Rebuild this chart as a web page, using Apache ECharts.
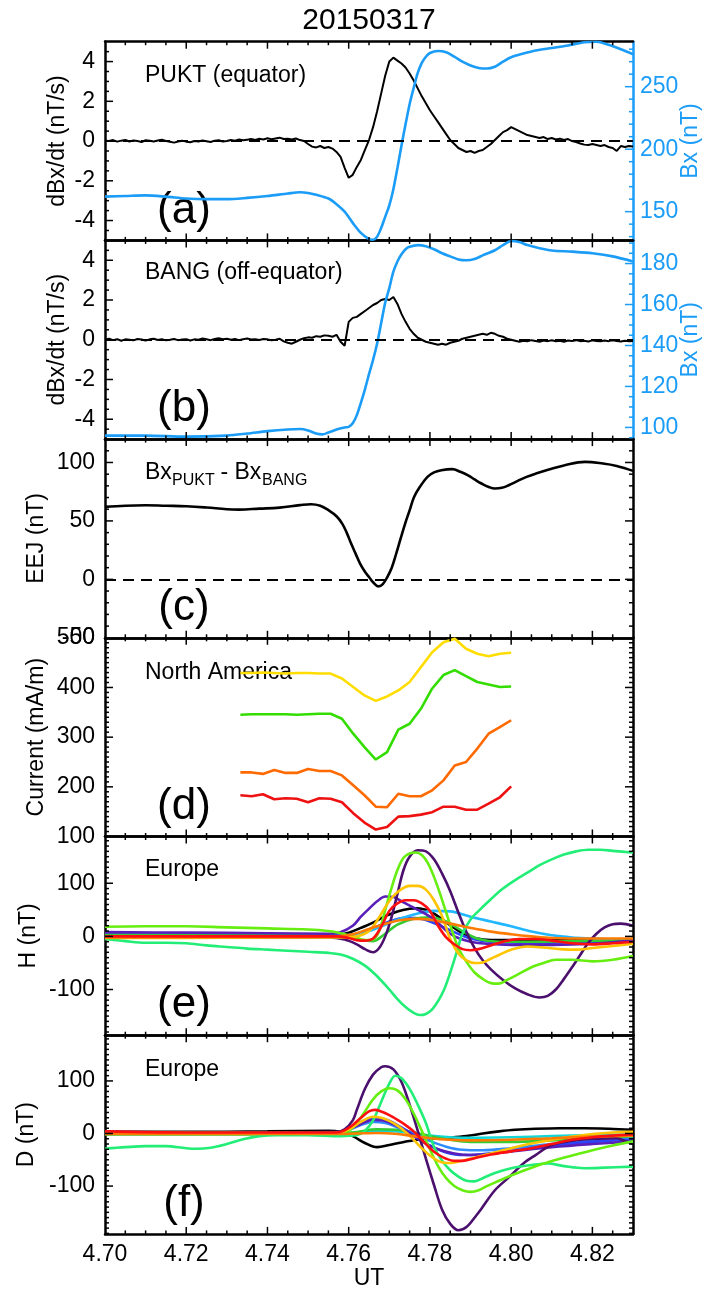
<!DOCTYPE html>
<html>
<head>
<meta charset="utf-8">
<title>20150317</title>
<script src="https://cdn.jsdelivr.net/npm/echarts@6/dist/echarts.min.js"></script>
<style>
  html, body { margin: 0; padding: 0; background: #fff; }
  #chart { width: 706px; height: 1293px; }
</style>
</head>
<body>
<div id="chart"></div>
<script>
// ---------------------------------------------------------------------------
// Data (UT in decimal hours)
// ---------------------------------------------------------------------------
const UT_MIN = 4.70, UT_MAX = 4.83;

// dBx/dt sampled every 0.001 h starting at 4.700 (nT/s)
const DBDT_START = 4.700, DBDT_STEP = 0.001;
const puktDbdt = [
  0.02, 0.00, 0.05, -0.03, 0.02, 0.06, -0.02, 0.03, 0.00, -0.05,
  0.04, 0.01, -0.02, 0.03, 0.07, 0.00, -0.04, -0.08, -0.02, 0.02,
  -0.03, -0.06, 0.00, -0.02, 0.03, -0.01, -0.05, 0.02, 0.04, -0.02,
  0.00, 0.05, 0.02, 0.08, 0.04, 0.07, 0.10, 0.06, 0.12, 0.08,
  0.14, 0.09, 0.13, 0.17, 0.10, 0.12, 0.08, 0.13, 0.05, 0.00,
  -0.15, -0.28, -0.32, -0.25, -0.35, -0.30, -0.38, -0.55, -0.80, -1.35,
  -1.85, -1.70, -1.30, -0.95, -0.45, 0.05, 0.70, 1.50, 2.40, 3.30,
  4.00, 4.20, 4.05, 3.90, 3.70, 3.40, 3.05, 2.65, 2.25, 1.90,
  1.55, 1.25, 0.95, 0.65, 0.35, 0.05, -0.15, -0.35, -0.45, -0.55,
  -0.50, -0.60, -0.50, -0.45, -0.30, -0.15, 0.05, 0.25, 0.45, 0.55,
  0.70, 0.60, 0.50, 0.40, 0.30, 0.25, 0.20, 0.15, 0.20, 0.10,
  0.15, 0.08, 0.12, 0.05, 0.10, 0.00, -0.05, -0.12, -0.18, -0.20,
  -0.15, -0.20, -0.25, -0.20, -0.30, -0.35, -0.50, -0.25, -0.30, -0.25,
  -0.28
];
const bangDbdt = [
  0.00, 0.05, -0.02, 0.03, -0.05, 0.02, 0.00, -0.03, 0.04, 0.01,
  -0.04, 0.02, 0.05, -0.01, 0.03, -0.03, 0.00, 0.04, -0.02, 0.01,
  0.03, -0.04, 0.02, 0.00, 0.06, 0.02, -0.02, 0.04, 0.08, 0.03,
  0.05, 0.00, 0.04, -0.02, 0.03, 0.06, 0.01, 0.03, -0.01, 0.04,
  0.02, -0.03, 0.00, 0.05, -0.08, -0.15, -0.20, -0.10, 0.00, 0.08,
  0.12, 0.10, 0.18, 0.15, 0.22, 0.20, 0.15, 0.25, -0.10, -0.30,
  0.90, 1.10, 1.15, 1.30, 1.45, 1.60, 1.75, 1.85, 2.00, 2.05,
  2.00, 2.15, 1.80, 1.30, 0.90, 0.55, 0.30, 0.10, 0.00, -0.10,
  -0.15, -0.20, -0.25, -0.20, -0.25, -0.15, -0.10, -0.05, 0.05, 0.10,
  0.15, 0.20, 0.25, 0.30, 0.25, 0.35, 0.30, 0.20, 0.15, 0.05,
  0.00, -0.05, -0.10, -0.05, -0.08, -0.02, -0.06, -0.10, -0.04, -0.07,
  -0.03, -0.08, -0.05, -0.10, -0.04, -0.06, -0.02, -0.07, -0.05, -0.09,
  -0.03, -0.06, -0.08, -0.04, -0.07, -0.03, -0.06, -0.09, -0.05, -0.07,
  -0.06
];

// Bx (nT), [UT, value]
const puktBx = [
  [4.700,162],[4.705,162.5],[4.710,163],[4.715,162],[4.720,160.5],[4.725,160],[4.730,160],
  [4.735,161],[4.740,162.5],[4.745,164.5],[4.748,165.5],[4.750,165],[4.752,163.5],[4.755,160.5],
  [4.757,156],[4.759,150],[4.761,141],[4.763,133],[4.765,128],[4.766,127.5],[4.767,130],
  [4.768,137],[4.769,146],[4.770,155],[4.771,168],[4.772,185],[4.773,203],[4.774,220],
  [4.775,236],[4.776,249],[4.777,261],[4.778,269],[4.779,274],[4.780,277],[4.782,278.5],
  [4.784,277.5],[4.786,274],[4.788,270],[4.790,267],[4.792,265],[4.794,264.5],[4.796,266],
  [4.798,270],[4.800,273.5],[4.803,276.5],[4.806,279],[4.810,281],[4.814,283],[4.818,285.5],
  [4.821,286],[4.824,283.5],[4.827,280],[4.830,276]
];
const bangBx = [
  [4.700,96],[4.710,96],[4.720,95.5],[4.730,96],[4.735,97],[4.740,98.2],[4.745,99],[4.748,99.2],
  [4.750,98.5],[4.752,97],[4.7535,96.6],[4.755,97.5],[4.757,99],[4.759,100],[4.760,100.3],
  [4.761,102],[4.762,106],[4.763,112],[4.764,118.6],[4.765,126],[4.766,133],[4.767,141],
  [4.768,151],[4.769,161],[4.770,168],[4.771,176],[4.772,181],[4.773,184.5],[4.774,187],
  [4.775,188.2],[4.777,189],[4.779,188.5],[4.781,187],[4.783,185],[4.785,183.5],[4.787,182],
  [4.789,181.6],[4.791,182.2],[4.793,184],[4.796,186.5],[4.798,189],[4.800,191],[4.802,190.5],
  [4.804,189],[4.807,187.5],[4.810,186.4],[4.815,185.8],[4.820,185],[4.825,183.5],[4.830,181]
];

// EEJ = Bx(PUKT) - Bx(BANG), nT
const eej = [
  [4.700,62],[4.705,63],[4.710,63.4],[4.715,63],[4.720,62.6],[4.725,61.5],[4.730,60],[4.733,59.7],
  [4.738,60.5],[4.743,61.4],[4.748,63.5],[4.7507,64.3],[4.753,63],[4.7551,59],[4.757,54],
  [4.7584,47.7],[4.7595,40],[4.7606,30.6],[4.7617,22],[4.7628,13.4],[4.764,6.5],[4.765,2],
  [4.766,-2.5],[4.7673,-6],[4.7684,-4],[4.7695,2],[4.7706,10],[4.7717,22],[4.7728,35],
  [4.7739,47.7],[4.775,59],[4.7761,70.5],[4.7777,80],[4.7794,87.7],[4.781,91.5],[4.7828,93.4],
  [4.7855,94.3],[4.7875,92],[4.7894,89],[4.791,85.5],[4.7927,82],[4.7945,79],[4.796,77.7],
  [4.7977,78.3],[4.7994,80.5],[4.8015,84],[4.8038,87.7],[4.8065,91],[4.8093,94],[4.813,97.5],
  [4.8182,100.5],[4.8226,99.1],[4.826,97],[4.830,92.8]
];

// North America equivalent currents (mA/m), 10 s cadence from 04:44:00 UT
const NA_START = 4 + 44 / 60, NA_CADENCE = 10 / 3600;
const naYellow = [429,429,430,429,428,429,429,428,428,418,401,384,373,382,394,411,441,471,491,498,478,468,463,468,470];
const naGreen  = [345,346,346,346,346,345,346,347,347,337,307,280,255,270,315,327,357,398,425,435,423,411,406,401,402];
const naOrange = [229,229,226,234,228,228,236,232,232,223,203,183,160,159,186,181,181,193,213,243,250,277,307,320,334];
const naRed    = [183,181,185,175,177,176,169,177,176,169,147,128,114,119,140,141,144,149,160,160,154,154,166,179,201];

// Europe H component (nT), [UT, value]
const hBlack = [[4.700,1],[4.740,1],[4.757,2],[4.760,7],[4.763,16],[4.766,26],[4.769,38],[4.772,47],[4.775,52],[4.777,53],[4.779,50],[4.781,43],[4.783,32],[4.785,21],[4.788,6],[4.791,-3],[4.795,-7],[4.810,-7],[4.830,-7]];
const hBlue = [[4.700,4],[4.750,3],[4.758,2],[4.762,5],[4.766,15],[4.770,28],[4.774,35],[4.778,33],[4.782,22],[4.786,8],[4.790,-4],[4.795,-10],[4.805,-12],[4.815,-11],[4.830,-9]];
const hCyan = [[4.700,-1],[4.757,0],[4.761,1],[4.765,10],[4.769,22],[4.773,34],[4.777,43],[4.781,48],[4.785,47],[4.790,37],[4.795,28],[4.800,19],[4.805,9],[4.810,2],[4.815,-2],[4.820,-4],[4.825,-6],[4.830,-7]];
const hGreen = [[4.700,3],[4.750,2],[4.758,0],[4.762,-6],[4.766,-9],[4.769,5],[4.772,22],[4.776,33],[4.780,36],[4.784,28],[4.788,10],[4.792,-5],[4.797,-10],[4.805,-10],[4.815,-9],[4.830,-8]];
const hViolet = [[4.700,8],[4.720,7],[4.740,6],[4.755,5],[4.758,8],[4.761,20],[4.763,37],[4.765,52],[4.767,66],[4.769,75],[4.771,74],[4.773,66],[4.775,58],[4.777,50],[4.779,42],[4.781,32],[4.783,18],[4.785,5],[4.787,-3],[4.790,-10],[4.794,-14],[4.800,-16],[4.810,-16],[4.820,-14],[4.830,-8]];
const hPurple = [[4.700,-3],[4.720,-2],[4.740,-2],[4.755,-2],[4.759,-6],[4.762,-15],[4.764,-24],[4.766,-30],[4.7675,-22],[4.769,0],[4.7705,35],[4.772,80],[4.7735,125],[4.775,150],[4.777,162],[4.779,160],[4.781,145],[4.783,118],[4.785,85],[4.787,45],[4.789,8],[4.791,-22],[4.793,-45],[4.795,-62],[4.798,-82],[4.801,-98],[4.804,-109],[4.807,-115],[4.809,-112],[4.811,-100],[4.813,-80],[4.815,-58],[4.817,-35],[4.819,-12],[4.821,5],[4.823,17],[4.825,23],[4.827,24],[4.830,20]];
const hMint = [[4.700,-5],[4.705,-9],[4.710,-12],[4.715,-12],[4.720,-13],[4.725,-17],[4.730,-20],[4.735,-23],[4.740,-25],[4.745,-27],[4.750,-29],[4.755,-31],[4.758,-34],[4.761,-42],[4.764,-55],[4.767,-75],[4.770,-100],[4.772,-118],[4.774,-133],[4.776,-144],[4.7775,-148],[4.779,-146],[4.7805,-138],[4.782,-122],[4.7835,-100],[4.785,-68],[4.7865,-32],[4.788,5],[4.790,32],[4.792,48],[4.795,70],[4.798,90],[4.801,106],[4.804,120],[4.807,134],[4.810,145],[4.813,154],[4.816,160],[4.819,163],[4.822,163],[4.825,161],[4.828,159],[4.830,158]];
const hLime = [[4.700,18],[4.710,19],[4.720,19],[4.730,17],[4.740,15],[4.750,13],[4.755,10],[4.758,6],[4.761,0],[4.764,-7],[4.766,-6],[4.7675,10],[4.769,50],[4.7705,90],[4.772,125],[4.7735,148],[4.775,156],[4.7765,158],[4.778,153],[4.7795,138],[4.781,112],[4.7825,80],[4.784,45],[4.7855,10],[4.787,-22],[4.789,-48],[4.791,-68],[4.793,-80],[4.795,-88],[4.797,-89],[4.799,-82],[4.802,-70],[4.805,-58],[4.808,-50],[4.811,-44],[4.815,-44],[4.820,-47],[4.825,-44],[4.830,-37]];
const hGold = [[4.700,-3],[4.720,-3],[4.740,-2],[4.758,-2],[4.762,0],[4.765,10],[4.767,30],[4.769,55],[4.771,76],[4.773,89],[4.775,95],[4.777,95],[4.779,88],[4.781,68],[4.783,38],[4.785,-5],[4.787,-32],[4.789,-45],[4.791,-50],[4.793,-49],[4.795,-42],[4.797,-35],[4.800,-25],[4.804,-19],[4.808,-21],[4.812,-24],[4.816,-25],[4.820,-22],[4.825,-18],[4.830,-14]];
const hOrange = [[4.700,-2],[4.740,-1],[4.757,0],[4.761,4],[4.765,14],[4.769,24],[4.773,31],[4.777,33],[4.781,30],[4.785,24],[4.790,16],[4.795,9],[4.800,4],[4.805,0],[4.810,-3],[4.820,-4],[4.830,-4]];
const hRed = [[4.700,0],[4.720,0],[4.740,0],[4.757,0],[4.760,-3],[4.762,-7],[4.764,-8],[4.766,-4],[4.768,18],[4.770,48],[4.772,62],[4.774,68],[4.776,68],[4.778,62],[4.780,48],[4.782,20],[4.784,-2],[4.786,-15],[4.788,-24],[4.790,-26],[4.792,-24],[4.795,-17],[4.798,-10],[4.802,-5],[4.806,-5],[4.810,-8],[4.815,-13],[4.820,-15],[4.825,-13],[4.830,-10]];

// Europe D component (nT), [UT, value]
const dBlack = [[4.700,3],[4.720,3],[4.740,4],[4.755,5],[4.758,3],[4.761,-5],[4.764,-18],[4.767,-26],[4.770,-22],[4.773,-17],[4.777,-12],[4.781,-10],[4.785,-8],[4.789,-5],[4.793,0],[4.797,4],[4.801,7],[4.806,9],[4.812,10],[4.818,10],[4.824,9],[4.830,7]];
const dCyan = [[4.700,0],[4.757,0],[4.762,2],[4.767,5],[4.772,4],[4.776,0],[4.780,-4],[4.785,-7],[4.790,-8],[4.800,-7],[4.810,-5],[4.820,-3],[4.830,-2]];
const dGreen = [[4.700,-2],[4.757,-1],[4.762,3],[4.767,8],[4.772,7],[4.776,2],[4.780,-5],[4.785,-12],[4.790,-16],[4.800,-16],[4.810,-13],[4.820,-9],[4.830,-6]];
const dDodger = [[4.700,1],[4.757,1],[4.760,7],[4.763,16],[4.766,22],[4.769,20],[4.772,12],[4.776,0],[4.780,-14],[4.784,-25],[4.788,-31],[4.793,-32],[4.800,-28],[4.810,-20],[4.820,-14],[4.830,-10]];
const dBlue = [[4.700,2],[4.757,2],[4.760,10],[4.763,22],[4.766,30],[4.769,27],[4.772,16],[4.775,2],[4.778,-14],[4.781,-27],[4.784,-36],[4.788,-41],[4.792,-40],[4.797,-36],[4.802,-31],[4.808,-25],[4.815,-19],[4.822,-15],[4.830,-12]];
const dViolet = [[4.700,2],[4.757,2],[4.760,8],[4.763,18],[4.766,26],[4.769,24],[4.772,14],[4.775,0],[4.778,-15],[4.782,-30],[4.786,-38],[4.790,-41],[4.795,-39],[4.800,-34],[4.810,-26],[4.820,-20],[4.830,-15]];
const dPurple = [[4.700,3],[4.720,2],[4.740,2],[4.757,3],[4.759,8],[4.761,25],[4.762,45],[4.764,85],[4.766,112],[4.768,126],[4.769,128],[4.771,122],[4.773,98],[4.775,55],[4.777,5],[4.779,-48],[4.781,-98],[4.783,-145],[4.785,-172],[4.787,-184],[4.789,-178],[4.7915,-155],[4.7925,-145],[4.796,-108],[4.7995,-83],[4.803,-57],[4.806,-41],[4.810,-22],[4.816,-13],[4.822,-10],[4.826,-9],[4.828,-14],[4.830,-20]];
const dMint = [[4.700,-29],[4.705,-26],[4.710,-24],[4.715,-24],[4.720,-28],[4.7225,-29],[4.726,-27],[4.730,-20],[4.734,-11],[4.738,-5],[4.742,-3],[4.750,-3],[4.758,-5],[4.762,-3],[4.764,5],[4.766,25],[4.768,60],[4.770,95],[4.7715,110],[4.773,105],[4.775,85],[4.777,55],[4.779,20],[4.781,-25],[4.783,-52],[4.785,-70],[4.787,-82],[4.789,-90],[4.791,-91],[4.793,-85],[4.796,-75],[4.800,-66],[4.805,-60],[4.809,-57],[4.813,-62],[4.818,-66],[4.823,-65],[4.830,-63]];
const dLime = [[4.700,2],[4.740,1],[4.757,1],[4.760,5],[4.762,20],[4.764,42],[4.766,65],[4.768,80],[4.770,86],[4.772,82],[4.774,65],[4.776,38],[4.778,5],[4.780,-30],[4.782,-62],[4.784,-85],[4.786,-100],[4.788,-108],[4.790,-111],[4.792,-108],[4.794,-100],[4.797,-90],[4.800,-80],[4.804,-68],[4.808,-57],[4.812,-48],[4.816,-40],[4.820,-32],[4.825,-23],[4.830,-15]];
const dGold = [[4.700,0],[4.740,0],[4.757,1],[4.760,8],[4.763,22],[4.766,32],[4.768,30],[4.770,24],[4.772,15],[4.774,3],[4.776,-12],[4.778,-28],[4.780,-42],[4.782,-52],[4.784,-56],[4.786,-55],[4.790,-48],[4.795,-38],[4.800,-28],[4.805,-19],[4.810,-12],[4.815,-6],[4.820,-1],[4.825,2],[4.830,3]];
const dOrange = [[4.700,-1],[4.757,-1],[4.762,0],[4.767,1],[4.772,-1],[4.776,-5],[4.780,-9],[4.785,-12],[4.790,-13],[4.800,-12],[4.810,-9],[4.820,-6],[4.830,-4]];
const dRed = [[4.700,4],[4.720,2],[4.740,2],[4.757,2],[4.759,6],[4.761,16],[4.763,30],[4.765,42],[4.7665,45],[4.768,42],[4.770,35],[4.772,26],[4.774,16],[4.776,4],[4.778,-12],[4.780,-28],[4.782,-40],[4.784,-48],[4.786,-52],[4.788,-52],[4.791,-47],[4.795,-40],[4.800,-34],[4.805,-28],[4.810,-20],[4.815,-12],[4.820,-7],[4.825,-4],[4.830,-2]];

// ---------------------------------------------------------------------------
// Styling
// ---------------------------------------------------------------------------
const FONT = '"Liberation Sans", Arial, Helvetica, sans-serif';
const FS = 23;
const BLUE = '#1a9cf7';
const C = {
  black: '#000000', blue: '#2a44ff', dodger: '#2f8cff', cyan: '#22b8ff', turq: '#14d6d6',
  green: '#33cc33', violet: '#5a1fb8', purple: '#4b0f6e', mint: '#22ee77', lime: '#66ee11',
  gold: '#ffc400', orange: '#ff7a00', red: '#ff1010',
  naYellow: '#ffdd00', naGreen: '#33dd00', naOrange: '#ff6a00', naRed: '#ee1111'
};

const GRID_LEFT = 105, GRID_RIGHT = 73, GRID_TOP = 41.7, GRID_H = 198.7;
const UT_MAJOR = 0.02, UT_MINOR = 0.005;

const sampled = (start, step, vals) => vals.map((v, i) => [start + i * step, v]);

// Left y-axis per panel (major / minor tick spacing used for the tick marks)
const panels = [
  { min: -5,   max: 5,   split: 5, major: 2,   minor: 0.5, name: 'dBx/dt (nT/s)',  gap: 36, showMin: false, showMax: false },
  { min: -5,   max: 5,   split: 5, major: 2,   minor: 0.5, name: 'dBx/dt (nT/s)',  gap: 36, showMin: false, showMax: false },
  { min: -50,  max: 120, split: 4, major: 50,  minor: 10,  name: 'EEJ (nT)',       gap: 57, showMin: true,  showMax: false },
  { min: 100,  max: 500, split: 4, major: 100, minor: 10,  name: 'Current (mA/m)', gap: 57, showMin: true,  showMax: true  },
  { min: -186, max: 188, split: 4, major: 100, minor: 10,  name: 'H (nT)',         gap: 65, showMin: false, showMax: false },
  { min: -191, max: 187, split: 4, major: 100, minor: 10,  name: 'D (nT)',         gap: 67, showMin: false, showMax: false }
];
// Right (Bx) axes of the first two panels
const bxAxes = [
  { min: 127,  max: 286,   split: 3, major: 50, minor: 10 },
  { min: 94.3, max: 191.3, split: 5, major: 20, minor: 5 }
];

const textStyle = (color) => ({ fontSize: FS, fontFamily: FONT, color: color });
const lineStyle = (color, w) => ({ color: color, width: w });
const hidden = () => ({ show: false });

// Frame axis: border line only
function frameAxis(gridIndex, position, scale, color) {
  return Object.assign({
    type: 'value', gridIndex: gridIndex, position: position,
    splitLine: hidden(),
    axisLine: { show: true, onZero: false, lineStyle: lineStyle(color, 2.5) },
    axisTick: hidden(), minorTick: hidden(), axisLabel: hidden()
  }, scale);
}
// Label axis: tick labels and title, sharing the frame axis scale
function labelAxis(gridIndex, position, scale, label, name) {
  return Object.assign({
    type: 'value', gridIndex: gridIndex, position: position,
    splitLine: hidden(), axisLine: hidden(), axisTick: hidden(), minorTick: hidden(),
    axisLabel: label, nameMoveOverlap: false
  }, name, scale);
}
function utLabel(v) {
  const n = Number(v);
  if (!isFinite(n)) return '';
  return Math.abs(n / UT_MAJOR - Math.round(n / UT_MAJOR)) < 1e-6 ? n.toFixed(2) : '';
}

const grids = [], xAxes = [], yAxes = [];
const axisIdx = [];
panels.forEach((p, i) => {
  grids.push({ left: GRID_LEFT, right: GRID_RIGHT, top: GRID_TOP + i * GRID_H, height: GRID_H,
               containLabel: false, outerBoundsMode: 'none' });
  const xs = { min: UT_MIN, max: UT_MAX, interval: UT_MAJOR };
  const ys = { min: p.min, max: p.max, splitNumber: p.split };
  const idx = { x: xAxes.length, y: yAxes.length };

  xAxes.push(frameAxis(i, 'bottom', Object.assign({}, xs), '#000'));
  xAxes.push(frameAxis(i, 'top', Object.assign({}, xs), '#000'));
  if (i === panels.length - 1) {
    xAxes.push(labelAxis(i, 'bottom', Object.assign({}, xs),
      Object.assign({ show: true, margin: 9, formatter: utLabel }, textStyle('#000')),
      { name: 'UT', nameLocation: 'middle', nameGap: 33, nameTextStyle: textStyle('#000') }));
  }

  yAxes.push(frameAxis(i, 'left', Object.assign({}, ys), '#000'));
  yAxes.push(labelAxis(i, 'left', Object.assign({}, ys),
    Object.assign({ show: true, margin: 10, showMinLabel: p.showMin, showMaxLabel: p.showMax }, textStyle('#000')),
    { name: p.name, nameLocation: 'middle', nameGap: p.gap, nameRotate: 90, nameTextStyle: textStyle('#000') }));

  if (i < 2) {
    const b = bxAxes[i];
    const bs = { min: b.min, max: b.max, splitNumber: b.split };
    idx.bx = yAxes.length;
    yAxes.push(frameAxis(i, 'right', Object.assign({}, bs), BLUE));
    yAxes.push(labelAxis(i, 'right', Object.assign({}, bs),
      Object.assign({ show: true, margin: 7, showMinLabel: false, showMaxLabel: false }, textStyle(BLUE)),
      { name: 'Bx (nT)', nameLocation: 'middle', nameGap: 46, nameRotate: 90, nameTextStyle: textStyle(BLUE) }));
  } else {
    yAxes.push(frameAxis(i, 'right', Object.assign({}, ys), '#000'));
  }
  axisIdx.push(idx);
});

// ---------------------------------------------------------------------------
// Inward tick marks (major + minor), placed through the axis scales
// ---------------------------------------------------------------------------
const TICK_Y = [4, 8], TICK_X = [3.5, 7];
function tickValues(min, max, major, minor) {
  const out = [];
  const i0 = Math.ceil(min / minor - 1e-9), i1 = Math.floor(max / minor + 1e-9);
  for (let k = i0; k <= i1; k++) {
    const v = Math.round(k * minor * 1e6) / 1e6;
    if (v <= min + 1e-9 || v >= max - 1e-9) continue;
    const isMajor = Math.abs(v / major - Math.round(v / major)) < 1e-6;
    out.push([v, isMajor ? 1 : 0]);
  }
  return out;
}
// side: 0 left, 1 right, 2 bottom, 3 top
function tickLayer(panel, yAxisIndex, yMin, yMax, yMajor, yMinor, sides, withX, color) {
  const data = [];
  tickValues(yMin, yMax, yMajor, yMinor).forEach(([v, m]) => {
    sides.forEach(s => data.push([s, v, TICK_Y[m]]));
  });
  if (withX) {
    tickValues(UT_MIN, UT_MAX, UT_MAJOR, UT_MINOR).forEach(([v, m]) => {
      data.push([2, v, TICK_X[m]]);
      data.push([3, v, TICK_X[m]]);
    });
  }
  return {
    type: 'custom', xAxisIndex: axisIdx[panel].x, yAxisIndex: yAxisIndex,
    silent: true, animation: false, z: 5, clip: false,
    dimensions: ['side', 'val', 'len'], encode: { x: 'val', y: 'val' },
    data: data,
    renderItem: function (params, api) {
      const side = api.value(0), v = api.value(1), len = api.value(2);
      let p, x2, y2;
      if (side === 0) { p = api.coord([UT_MIN, v]); x2 = p[0] + len; y2 = p[1]; }
      else if (side === 1) { p = api.coord([UT_MAX, v]); x2 = p[0] - len; y2 = p[1]; }
      else if (side === 2) { p = api.coord([v, yMin]); x2 = p[0]; y2 = p[1] - len; }
      else { p = api.coord([v, yMax]); x2 = p[0]; y2 = p[1] + len; }
      return { type: 'line', shape: { x1: p[0], y1: p[1], x2: x2, y2: y2 },
               style: { stroke: color, lineWidth: 1.5 } };
    }
  };
}

// ---------------------------------------------------------------------------
// Series
// ---------------------------------------------------------------------------
const zeroLine = () => ({
  silent: true, symbol: 'none', label: { show: false },
  lineStyle: { type: [11, 7], color: '#000', width: 2 },
  data: [{ yAxis: 0 }]
});
function line(panel, data, color, width, opts) {
  return Object.assign({
    type: 'line', xAxisIndex: axisIdx[panel].x, yAxisIndex: axisIdx[panel].y, data: data,
    showSymbol: false, symbol: 'none', animation: false, silent: true,
    lineStyle: { color: color, width: width }, itemStyle: { color: color }
  }, opts || {});
}

const series = [
  line(0, sampled(DBDT_START, DBDT_STEP, puktDbdt), '#000', 2, { markLine: zeroLine() }),
  line(0, puktBx, BLUE, 2.6, { yAxisIndex: axisIdx[0].bx, smooth: 0.3 }),
  line(1, sampled(DBDT_START, DBDT_STEP, bangDbdt), '#000', 2, { markLine: zeroLine() }),
  line(1, bangBx, BLUE, 2.6, { yAxisIndex: axisIdx[1].bx, smooth: 0.3 }),
  line(2, eej, '#000', 2.6, { smooth: 0.4, markLine: zeroLine() }),
  line(3, sampled(NA_START, NA_CADENCE, naYellow), C.naYellow, 2.6),
  line(3, sampled(NA_START, NA_CADENCE, naGreen), C.naGreen, 2.6),
  line(3, sampled(NA_START, NA_CADENCE, naOrange), C.naOrange, 2.6),
  line(3, sampled(NA_START, NA_CADENCE, naRed), C.naRed, 2.6)
];

const hSet = [[hBlack, C.black], [hBlue, C.blue], [hCyan, C.cyan], [hGreen, C.green], [hViolet, C.violet],
              [hPurple, C.purple], [hMint, C.mint], [hLime, C.lime], [hGold, C.gold], [hOrange, C.orange], [hRed, C.red]];
hSet.forEach(([d, c]) => series.push(line(4, d, c, 2.6, { smooth: 0.35 })));

const dSet = [[dBlack, C.black], [dCyan, C.turq], [dGreen, C.green], [dDodger, C.dodger], [dBlue, C.blue],
              [dViolet, C.violet], [dPurple, C.purple], [dMint, C.mint], [dLime, C.lime], [dGold, C.gold],
              [dOrange, C.orange], [dRed, C.red]];
dSet.forEach(([d, c]) => series.push(line(5, d, c, 2.6, { smooth: 0.35 })));

// Tick marks on every panel frame
panels.forEach((p, i) => {
  const sides = i < 2 ? [0] : [0, 1];
  series.push(tickLayer(i, axisIdx[i].y, p.min, p.max, p.major, p.minor, sides, true, '#000'));
  if (i < 2) {
    const b = bxAxes[i];
    series.push(tickLayer(i, axisIdx[i].bx, b.min, b.max, b.major, b.minor, [1], false, BLUE));
  }
});

// ---------------------------------------------------------------------------
// Annotations
// ---------------------------------------------------------------------------
const bottomOf = i => GRID_TOP + (i + 1) * GRID_H;
const topOf = i => GRID_TOP + i * GRID_H;
const txt = (x, y, text, size, align, color) => ({
  type: 'text', x: x, y: y, silent: true,
  style: { text: text, fontSize: size, fontFamily: FONT, fill: color || '#000',
           align: align || 'left', verticalAlign: 'middle' }
});

const graphics = [
  txt(369, 21, '20150317', 30, 'center'),
  txt(145, topOf(0) + 34, 'PUKT (equator)', FS),
  txt(145, topOf(1) + 32, 'BANG (off-equator)', FS),
  txt(145, topOf(2) + 34, 'Bx', FS),
  txt(172, topOf(2) + 41, 'PUKT', 16),
  txt(214, topOf(2) + 34, ' - Bx', FS),
  txt(262, topOf(2) + 41, 'BANG', 16),
  txt(145, topOf(3) + 35, 'North America', FS),
  txt(145, topOf(4) + 33, 'Europe', FS),
  txt(145, topOf(5) + 34, 'Europe', FS)
];
['(a)', '(b)', '(c)', '(d)', '(e)', '(f)'].forEach((s, i) => {
  graphics.push(txt(184, bottomOf(i) - 30, s, 44, 'center'));
});

const chart = echarts.init(document.getElementById('chart'));
chart.setOption({
  animation: false,
  grid: grids,
  xAxis: xAxes,
  yAxis: yAxes,
  series: series,
  graphic: graphics
});
</script>
</body>
</html>
